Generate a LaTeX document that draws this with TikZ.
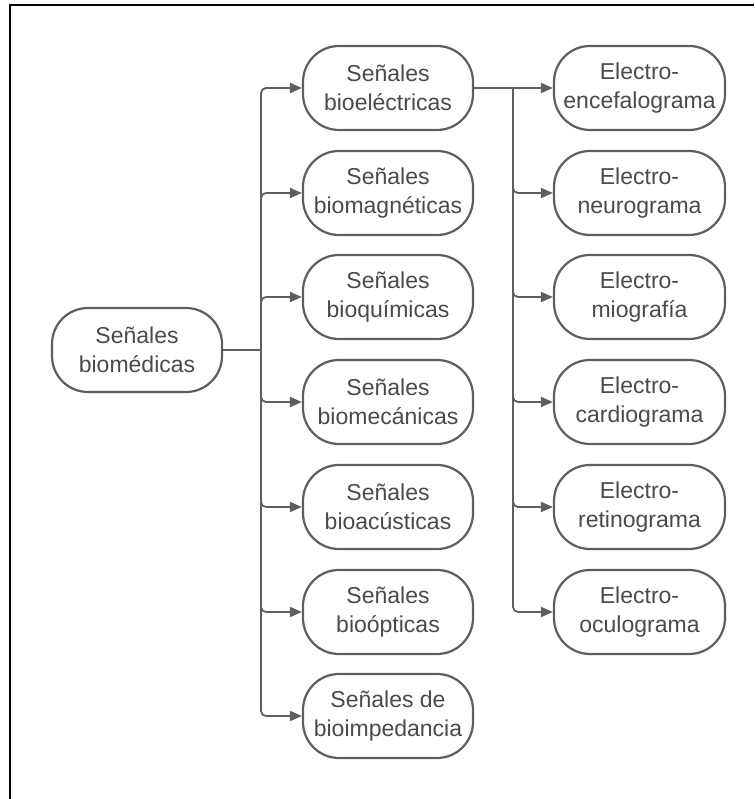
\documentclass[tikz,border=0pt]{standalone}
\usepackage{fontspec}
\setmainfont{Liberation Sans}
\usetikzlibrary{arrows.meta}
\definecolor{linegray}{HTML}{5E5E5E}
\definecolor{textgray}{HTML}{4A4A4A}
\tikzset{
  pill/.style={draw=linegray, line width=2.2pt, rounded corners=36pt,
    minimum width=170pt, minimum height=84pt, inner sep=0pt, align=center,
    text=textgray, font=\fontsize{23}{28.5}\selectfont},
  conn/.style={draw=linegray, line width=1.8pt, rounded corners=5pt,
    -{Triangle[length=12pt,width=10pt]}},
  plain/.style={draw=linegray, line width=1.8pt},
}
\begin{document}
\begin{tikzpicture}[x=1pt,y=1pt]
\useasboundingbox (0,0) rectangle (754,799);
% frame edges
\draw[black, line width=2pt] (10,0) -- (10,794) -- (754,794);

% root
\node[pill] (root) at (137,449) {Señales\\biomédicas};

% signal classes
\node[pill] (m1) at (388,711) {Señales\\bioeléctricas};
\node[pill] (m2) at (388,606) {Señales\\biomagnéticas};
\node[pill] (m3) at (388,502) {Señales\\bioquímicas};
\node[pill] (m4) at (388,397) {Señales\\biomecánicas};
\node[pill] (m5) at (388,292) {Señales\\bioacústicas};
\node[pill] (m6) at (388,187) {Señales\\bioópticas};
\node[pill] (m7) at (388,83) {Señales de\\bioimpedancia};

% bioelectric recordings
\node[pill, minimum width=171pt] (r1) at (639.5,711) {Electro-\\encefalograma};
\node[pill, minimum width=171pt] (r2) at (639.5,606) {Electro-\\neurograma};
\node[pill, minimum width=171pt] (r3) at (639.5,502) {Electro-\\miografía};
\node[pill, minimum width=171pt] (r4) at (639.5,397) {Electro-\\cardiograma};
\node[pill, minimum width=171pt] (r5) at (639.5,292) {Electro-\\retinograma};
\node[pill, minimum width=171pt] (r6) at (639.5,187) {Electro-\\oculograma};

% junctions
\coordinate (j1) at (261,449);
\coordinate (j2) at (513,711);

% root to classes
\draw[plain] (root.east) -- (j1);
\foreach \n in {m1,m2,m3,m4,m5,m6,m7}
  \draw[conn] (j1) |- (\n.west);

% bioelectric to recordings
\draw[conn] (m1.east) -- (r1.west);
\foreach \n in {r2,r3,r4,r5,r6}
  \draw[conn] (j2) |- (\n.west);
\end{tikzpicture}
\end{document}
